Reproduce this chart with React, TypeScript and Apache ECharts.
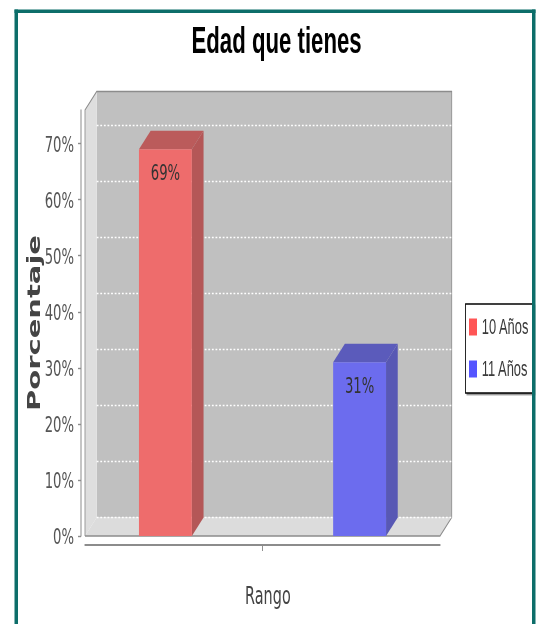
import React, { useEffect, useRef } from 'react';
import * as echarts from 'echarts';

// ---- data ----
const categories = [''];
const seriesNames = ['10 Años', '11 Años'];
const seriesValues = [69, 31];
const yTickValues = [0, 10, 20, 30, 40, 50, 60, 70];
const yMax = 76;
const titleText = 'Edad que tienes';
const xAxisTitle = 'Rango';
const yAxisTitle = 'Porcentaje';

// ---- styles ----
const legendColors = ['#ff5555', '#5555ff'];
const faceColors = ['#ee6c6c', '#6c6cee'];
const sideColors = ['#b45757', '#5858b4'];
const topColors = ['#bb5b5b', '#5b5bbb'];

const R = 0.6; // horizontal squeeze of the whole picture
const W = 539;
const H = 624;
const X = (v: number) => v / R;

const FRONT = { left: 85, right: 440, top: 110, bottom: 536 };
const DX = 11.7;
const DY = 18.5;

export default function App() {
  const ref = useRef<HTMLDivElement>(null);
  useEffect(() => {
    const chart = echarts.init(ref.current!, null, { renderer: 'svg' });
    const plotW = FRONT.right - FRONT.left;
    const plotH = FRONT.bottom - FRONT.top;
    const pxPerUnit = plotH / yMax;
    const backMax = yTickValues[yTickValues.length - 1];
    const backBottom = FRONT.bottom - DY;
    const backH = backMax * pxPerUnit;

    const makeSeries = (i: number) => ({
      type: 'custom',
      name: seriesNames[i],
      xAxisIndex: 0,
      yAxisIndex: 0,
      z: 3,
      itemStyle: { color: legendColors[i] },
      data: [[0, seriesValues[i]]],
      encode: { x: 0, y: 1 },
      renderItem: (params: any, api: any) => {
        const c = api.value(0);
        const v = api.value(1);
        const base = api.coord([c, 0]);
        const top = api.coord([c, v]);
        const band = api.size([1, 0])[0];
        const w = band * 0.149;
        const cx = base[0] + (i === 0 ? -1 : 1) * band * 0.2735;
        const x0 = cx - w / 2;
        const x1 = cx + w / 2;
        const yt = top[1];
        const yb = base[1];
        const dx = X(DX);
        const dy = DY;
        const children: any[] = [
          {
            type: 'polygon',
            shape: { points: [[x0, yt], [x0 + dx, yt - dy], [x1 + dx, yt - dy], [x1, yt]] },
            style: { fill: topColors[i] },
          },
          {
            type: 'polygon',
            shape: { points: [[x1, yt], [x1 + dx, yt - dy], [x1 + dx, yb - dy], [x1, yb]] },
            style: { fill: sideColors[i] },
          },
          {
            type: 'rect',
            shape: { x: x0, y: yt, width: w, height: yb - yt },
            style: { fill: faceColors[i] },
          },
          {
            type: 'text',
            style: {
              text: v + '%',
              x: cx,
              y: yt + 23,
              align: 'center',
              verticalAlign: 'middle',
              fontFamily: 'DejaVu Sans',
              fontSize: 22,
              fill: '#333',
            },
          },
        ];
        if (i === 0) {
          // category tick mark below the x axis line, at the category centre
          children.push({
            type: 'line',
            shape: { x1: base[0], y1: yb + 9, x2: base[0], y2: yb + 15 },
            style: { stroke: '#8c8c8c', lineWidth: 1.6 },
          });
        }
        return { type: 'group', children };
      },
    });

    const frameColor = '#0d6e6a';
    const option: any = {
      animation: false,
      backgroundColor: '#fff',
      title: {
        text: titleText,
        left: X(191.5),
        top: 21,
        padding: 0,
        textStyle: { fontFamily: 'Liberation Sans', fontWeight: 'bold', fontSize: 37, color: '#000' },
      },
      legend: {
        orient: 'vertical',
        left: X(465.5),
        top: 304,
        data: seriesNames,
        icon: 'rect',
        itemWidth: X(8),
        itemHeight: 17,
        itemGap: 20,
        padding: [12, X(4), 13, X(3.5)],
        borderColor: '#000',
        borderWidth: 1.4,
        backgroundColor: '#fff',
        shadowColor: 'rgba(0,0,0,0.45)',
        shadowOffsetX: X(1.5),
        shadowOffsetY: 1.5,
        shadowBlur: 0,
        textStyle: {
          fontFamily: 'Liberation Sans',
          fontSize: 21.5,
          color: '#3a3a3a',
          padding: [0, 0, 0, 3],
        },
      },
      grid: [
        { left: X(FRONT.left), top: FRONT.top, width: X(plotW), height: plotH, containLabel: false },
        { left: X(FRONT.left + DX), top: backBottom - backH, width: X(plotW), height: backH, containLabel: false },
      ],
      xAxis: [
        {
          gridIndex: 0,
          type: 'category',
          data: categories,
          offset: 9,
          axisLine: { onZero: false, lineStyle: { color: '#8c8c8c', width: 2 } },
          axisTick: { show: false },
          axisLabel: { show: false },
          name: xAxisTitle,
          nameLocation: 'middle',
          nameGap: 39,
          nameMoveOverlap: false,
          nameTextStyle: { fontFamily: 'DejaVu Sans', fontSize: 24, color: '#444', padding: [0, 0, 0, 18] },
        },
        { gridIndex: 1, type: 'category', data: categories, show: false },
      ],
      yAxis: [
        {
          gridIndex: 0,
          type: 'value',
          min: 0,
          max: yMax,
          interval: 10,
          offset: X(4),
          axisLine: { show: true, lineStyle: { color: '#8c8c8c', width: 1.67 } },
          axisTick: { show: true, length: 5, customValues: yTickValues, lineStyle: { color: '#8c8c8c', width: 1.4 } },
          axisLabel: {
            customValues: yTickValues,
            formatter: (v: number) => (v % 10 === 0 ? v + '%' : ''),
            margin: X(7),
            fontFamily: 'DejaVu Sans',
            fontSize: 22,
            color: '#555',
          },
          splitLine: { show: false },
          name: yAxisTitle,
          nameLocation: 'middle',
          nameGap: 64,
          nameMoveOverlap: false,
          nameRotate: 90,
          nameTextStyle: { fontFamily: 'DejaVu Sans', fontWeight: 'bold', fontSize: 29, color: '#444' },
        },
        {
          gridIndex: 1,
          type: 'value',
          min: 0,
          max: backMax,
          interval: 10,
          axisLine: { show: false },
          axisTick: { show: false },
          axisLabel: { show: false },
          splitLine: { show: true, lineStyle: { color: '#ffffff', type: [3, 3], width: 1.3 } },
        },
      ],
      graphic: [
        {
          type: 'rect',
          z: -1,
          shape: { x: X(FRONT.left + DX), y: FRONT.top - DY, width: X(plotW), height: plotH },
          style: { fill: '#c0c0c0' },
        },
        {
          type: 'polygon',
          z: -1,
          shape: {
            points: [
              [X(FRONT.left), FRONT.top],
              [X(FRONT.left + DX), FRONT.top - DY],
              [X(FRONT.left + DX), FRONT.bottom - DY],
              [X(FRONT.left), FRONT.bottom],
            ],
          },
          style: { fill: '#dedede' },
        },
        {
          type: 'polygon',
          z: -1,
          shape: {
            points: [
              [X(FRONT.left), FRONT.bottom],
              [X(FRONT.left + DX), FRONT.bottom - DY],
              [X(FRONT.right + DX), FRONT.bottom - DY],
              [X(FRONT.right), FRONT.bottom],
            ],
          },
          style: { fill: '#dcdcdc' },
        },
        {
          type: 'polyline',
          z: -1,
          shape: {
            points: [
              [X(FRONT.left), FRONT.bottom],
              [X(FRONT.left), FRONT.top],
              [X(FRONT.left + DX), FRONT.top - DY],
              [X(FRONT.right + DX), FRONT.top - DY],
              [X(FRONT.right + DX), FRONT.bottom - DY],
              [X(FRONT.right), FRONT.bottom],
              [X(FRONT.left), FRONT.bottom],
            ],
          },
          style: { fill: 'none', stroke: '#8c8c8c', lineWidth: 1.4 },
        },
        { type: 'rect', z: 100, shape: { x: X(14.5), y: 9.5, width: X(521), height: 3.5 }, style: { fill: frameColor } },
        { type: 'rect', z: 100, shape: { x: X(14.5), y: 9.5, width: X(3.5), height: 700 }, style: { fill: frameColor } },
        { type: 'rect', z: 100, shape: { x: X(532), y: 9.5, width: X(3.5), height: 700 }, style: { fill: frameColor } },
      ],
      series: [makeSeries(0), makeSeries(1)],
    };
    chart.setOption(option);
    return () => chart.dispose();
  }, []);

  return (
    <div style={{ position: 'fixed', left: 0, top: 0, width: W, height: H, overflow: 'hidden', background: '#fff' }}>
      <div
        ref={ref}
        style={{ width: W / R, height: H, transform: `scaleX(${R})`, transformOrigin: '0 0' }}
      />
    </div>
  );
}
